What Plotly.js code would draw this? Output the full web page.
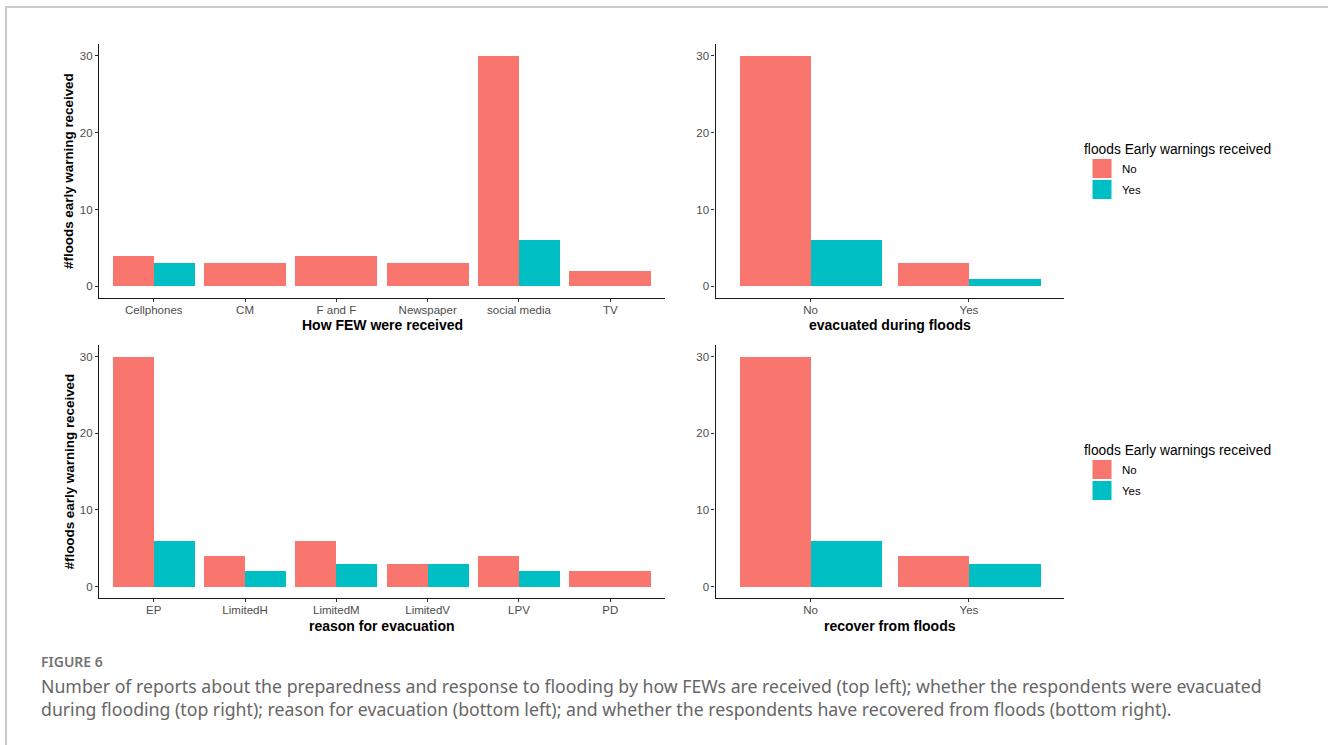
<!DOCTYPE html>
<html>
<head>
<meta charset="utf-8">
<script src="https://cdn.plot.ly/plotly-3.0.1.min.js"></script>
<style>
  html, body { margin: 0; padding: 0; background: #ffffff; overflow: hidden; }
  #figure { position: relative; width: 1328px; height: 745px; overflow: hidden; }
  #frame {
    position: absolute; left: 5px; top: 6px; right: 0; bottom: 0;
    border-left: 2px solid #cccccc; border-top: 2px solid #cccccc;
  }
  #chart { position: absolute; left: 0; top: 0; }
  .cap { position: absolute; left: 41px; font-family: "Noto Sans", "Open Sans", sans-serif; white-space: nowrap; }
  #figlabel { top: 653px; font-size: 14px; line-height: 18px; font-weight: 600; color: #737373; }
  #figtext { top: 675px; font-size: 17.7px; line-height: 23px; color: #666666; }
</style>
</head>
<body>
<div id="figure">
  <div id="frame"></div>
  <div id="chart"></div>
  <div class="cap" id="figlabel">FIGURE 6</div>
  <div class="cap" id="figtext">Number of reports about the preparedness and response to flooding by how FEWs are received (top left); whether the respondents were evacuated<br>during flooding (top right); reason for evacuation (bottom left); and whether the respondents have recovered from floods (bottom right).</div>
</div>
<script>
// Counts of respondents, split by whether flood early warnings (FEW) were received
const fewCategories = ['Cellphones', 'CM', 'F and F', 'Newspaper', 'social media', 'TV'];
const fewNo  = [4, 3, 4, 3, 30, 2];
const fewYes = [3, null, null, null, 6, null];

const evacCategories = ['No', 'Yes'];
const evacNo  = [30, 3];
const evacYes = [6, 1];

const reasonCategories = ['EP', 'LimitedH', 'LimitedM', 'LimitedV', 'LPV', 'PD'];
const reasonNo  = [30, 4, 6, 3, 4, 2];
const reasonYes = [6, 2, 3, 3, 2, null];

const recoverCategories = ['No', 'Yes'];
const recoverNo  = [30, 4];
const recoverYes = [6, 3];

const groupLabels = ['No', 'Yes'];
const yTicks = [0, 10, 20, 30];

const COL_NO = '#F8766D';
const COL_YES = '#00BFC4';
const W = 1328, H = 745;
const SANS = '"Liberation Sans", Arial, sans-serif';

// dodge like ggplot: a lone bar fills the whole 0.9 slot, a pair splits it
function dodgedTraces(cats, noVals, yesVals, xa, ya) {
  const slot = 0.9;
  const noOff = [], noW = [], yesOff = [], yesW = [];
  cats.forEach((c, i) => {
    const both = noVals[i] != null && yesVals[i] != null;
    if (both) {
      noOff.push(-slot / 2); noW.push(slot / 2);
      yesOff.push(0); yesW.push(slot / 2);
    } else {
      noOff.push(-slot / 2); noW.push(slot);
      yesOff.push(-slot / 2); yesW.push(slot);
    }
  });
  return [
    { type: 'bar', x: cats, y: noVals, offset: noOff, width: noW, xaxis: xa, yaxis: ya,
      marker: { color: COL_NO, line: { width: 0 } }, name: groupLabels[0], showlegend: false,
      hoverinfo: 'x+y+name' },
    { type: 'bar', x: cats, y: yesVals, offset: yesOff, width: yesW, xaxis: xa, yaxis: ya,
      marker: { color: COL_YES, line: { width: 0 } }, name: groupLabels[1], showlegend: false,
      hoverinfo: 'x+y+name' }
  ];
}

// legend swatches for one legend box
function legendKeys(xa, ya, legendId) {
  return groupLabels.map((lab, i) => {
    const c = i === 0 ? COL_NO : COL_YES;
    return {
      type: 'scatter', mode: 'markers', x: [null], y: [null], xaxis: xa, yaxis: ya,
      name: lab, legend: legendId, legendgroup: legendId + lab, showlegend: true, hoverinfo: 'skip',
      marker: { symbol: 'square', size: 16, color: c, line: { width: 3, color: c } }
    };
  });
}

const data = [
  ...dodgedTraces(fewCategories, fewNo, fewYes, 'x', 'y'),
  ...dodgedTraces(evacCategories, evacNo, evacYes, 'x2', 'y2'),
  ...dodgedTraces(reasonCategories, reasonNo, reasonYes, 'x3', 'y3'),
  ...dodgedTraces(recoverCategories, recoverNo, recoverYes, 'x4', 'y4'),
  ...legendKeys('x2', 'y2', 'legend'),
  ...legendKeys('x4', 'y4', 'legend2')
];

// paper fractions from pixel positions
const px = v => v / W;
const py = v => 1 - v / H;

function xAxis(cats, left, right, anchor) {
  return {
    domain: [px(left), px(right)], anchor: anchor, type: 'category',
    range: [-0.6, cats.length - 0.4], fixedrange: true,
    showline: true, linecolor: '#1a1a1a', linewidth: 1.3,
    ticks: 'outside', ticklen: 3, tickwidth: 1.1, tickcolor: '#333333',
    ticklabelstandoff: -2,
    showgrid: false, zeroline: false, automargin: false,
    tickfont: { family: SANS, size: 11.5, color: '#4d4d4d' }
  };
}
function yAxis(top, bottom, anchor) {
  return {
    domain: [py(bottom), py(top)], anchor: anchor,
    range: [-1.5, 31.5], fixedrange: true,
    tickmode: 'array', tickvals: yTicks, ticktext: yTicks.map(String),
    showline: true, linecolor: '#1a1a1a', linewidth: 1.3,
    ticks: 'outside', ticklen: 3, tickwidth: 1.1, tickcolor: '#333333',
    showgrid: false, zeroline: false, automargin: false,
    tickfont: { family: SANS, size: 11.5, color: '#4d4d4d' }
  };
}

const L1 = 99, R1 = 665, L2 = 715.5, R2 = 1064;
const T1 = 44, B1 = 298, T2 = 345, B2 = 598;

function xTitle(text, left, right, yc) {
  return { text: '<b>' + text + '</b>', x: px((left + right) / 2), y: py(yc), xref: 'paper', yref: 'paper',
    xanchor: 'center', yanchor: 'middle', showarrow: false,
    font: { family: SANS, size: 14, color: '#000000' } };
}
function yTitle(text, top, bottom) {
  return { text: '<b>' + text + '</b>', x: px(69), y: py((top + bottom) / 2), xref: 'paper', yref: 'paper',
    xanchor: 'center', yanchor: 'middle', textangle: -90, showarrow: false,
    font: { family: SANS, size: 13.4, color: '#000000' } };
}
function legendBox(top) {
  return {
    x: px(1082), y: py(top), xref: 'paper', yref: 'paper', xanchor: 'left', yanchor: 'top',
    bgcolor: 'rgba(0,0,0,0)', borderwidth: 0, tracegroupgap: 2, itemclick: false, itemdoubleclick: false,
    title: { text: 'floods Early warnings received', font: { family: SANS, size: 13.8, color: '#000000' } },
    font: { family: SANS, size: 11.5, color: '#000000' }
  };
}

const layout = {
  width: W, height: H,
  margin: { l: 0, r: 0, t: 0, b: 0 },
  paper_bgcolor: 'rgba(0,0,0,0)', plot_bgcolor: 'rgba(0,0,0,0)',
  barmode: 'overlay', bargap: 0,
  xaxis:  xAxis(fewCategories, L1, R1, 'y'),
  yaxis:  yAxis(T1, B1, 'x'),
  xaxis2: xAxis(evacCategories, L2, R2, 'y2'),
  yaxis2: yAxis(T1, B1, 'x2'),
  xaxis3: xAxis(reasonCategories, L1, R1, 'y3'),
  yaxis3: yAxis(T2, B2, 'x3'),
  xaxis4: xAxis(recoverCategories, L2, R2, 'y4'),
  yaxis4: yAxis(T2, B2, 'x4'),
  legend: legendBox(136),
  legend2: legendBox(437),
  annotations: [
    xTitle('How FEW were received', L1, R1, 325),
    xTitle('evacuated during floods', L2, R2, 325),
    xTitle('reason for evacuation', L1, R1, 626),
    xTitle('recover from floods', L2, R2, 626),
    yTitle('#floods early warning received', T1, B1),
    yTitle('#floods early warning received', T2, B2)
  ],
  showlegend: true,
  hovermode: 'closest'
};

Plotly.newPlot('chart', data, layout, { displayModeBar: false, responsive: false });
</script>
</body>
</html>
